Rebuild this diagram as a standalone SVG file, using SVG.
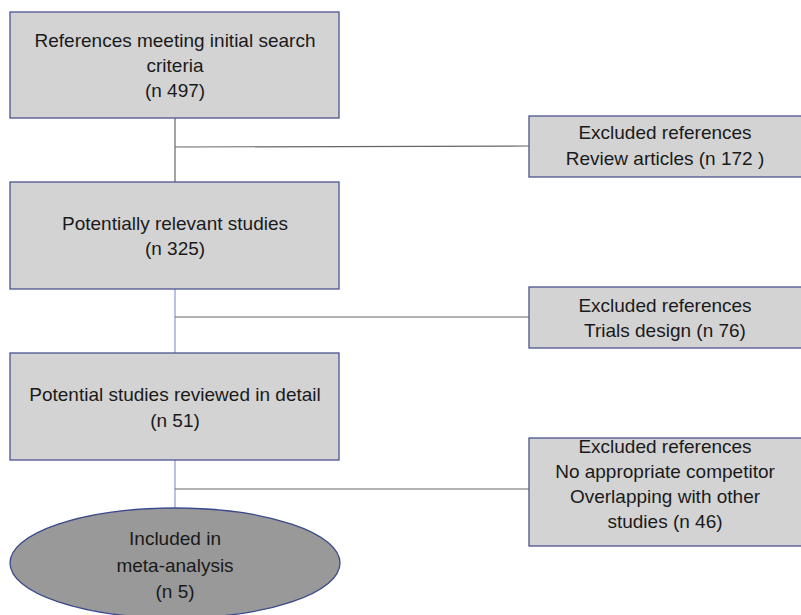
<svg xmlns="http://www.w3.org/2000/svg" width="801" height="615" viewBox="0 0 801 615">
<style>
.box{fill:#d3d3d3;stroke:#4a5490;stroke-width:1.3}
.ell{fill:#999999;stroke:#3a4a8a;stroke-width:1.3}
.t{font-family:"Liberation Sans",Arial,sans-serif;font-size:19px;fill:#1a1a1a;text-anchor:middle}
.c{stroke:#666;stroke-width:1.2;fill:none}
.cb{stroke:#8a96dd;stroke-width:1.2;fill:none}
</style>
<rect width="801" height="615" fill="#ffffff"/>
<g id="connectors">
<line class="c" x1="175" y1="118" x2="175" y2="182"/>
<line class="c" x1="175" y1="147" x2="529" y2="146"/>
<line class="cb" x1="175" y1="289" x2="175" y2="353"/>
<line class="c" x1="175" y1="317" x2="529" y2="317"/>
<line class="cb" x1="175" y1="460" x2="175" y2="508"/>
<line class="c" x1="175" y1="489" x2="529" y2="489"/>
</g>
<g id="n1">
<rect class="box" x="10" y="12" width="329" height="106"/>
<text class="t" x="175" y="47">References meeting initial search</text>
<text class="t" x="175" y="72">criteria</text>
<text class="t" x="175" y="97">(n 497)</text>
</g>
<g id="x1">
<rect class="box" x="529" y="116" width="280" height="61"/>
<text class="t" x="665" y="139">Excluded references</text>
<text class="t" x="665" y="165">Review articles  (n 172 )</text>
</g>
<g id="n2">
<rect class="box" x="10" y="182" width="329" height="107"/>
<text class="t" x="175" y="230">Potentially relevant studies</text>
<text class="t" x="175" y="255">(n 325)</text>
</g>
<g id="x2">
<rect class="box" x="529" y="287" width="280" height="61"/>
<text class="t" x="665" y="312">Excluded references</text>
<text class="t" x="665" y="337">Trials design (n 76)</text>
</g>
<g id="n3">
<rect class="box" x="10" y="353" width="329" height="107"/>
<text class="t" x="175" y="401">Potential studies reviewed in detail</text>
<text class="t" x="175" y="427">(n 51)</text>
</g>
<g id="x3">
<rect class="box" x="529" y="438" width="280" height="108"/>
<text class="t" x="665" y="453">Excluded references</text>
<text class="t" x="665" y="478">No appropriate competitor</text>
<text class="t" x="665" y="503">Overlapping with other</text>
<text class="t" x="665" y="528">studies (n 46)</text>
</g>
<g id="n4">
<ellipse class="ell" cx="175" cy="563" rx="165" ry="55"/>
<text class="t" x="175" y="545">Included in</text>
<text class="t" x="175" y="572">meta-analysis</text>
<text class="t" x="175" y="598">(n 5)</text>
</g>
</svg>
